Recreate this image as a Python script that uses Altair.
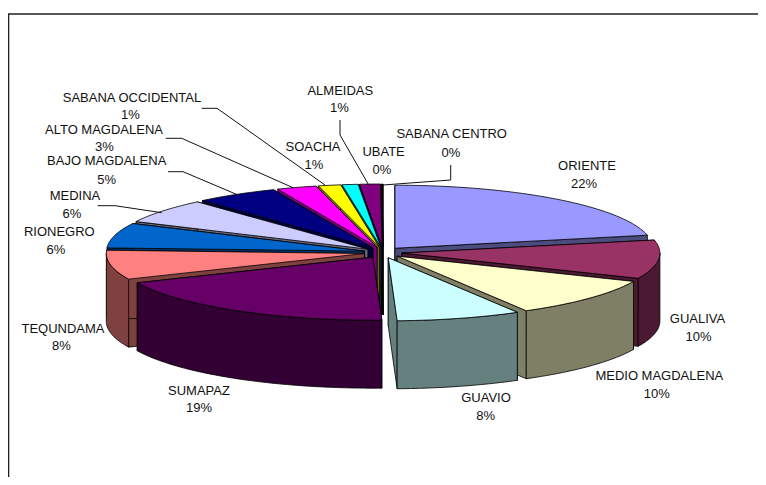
import numpy as np
import pandas as pd
import altair as alt

# Slice data (clockwise from the top of the pie)
names = ["ORIENTE", "GUALIVA", "MEDIO MAGDALENA", "GUAVIO", "SUMAPAZ", "TEQUNDAMA", "RIONEGRO",
         "MEDINA", "BAJO MAGDALENA", "ALTO MAGDALENA", "SABANA OCCIDENTAL", "SOACHA", "ALMEIDAS",
         "UBATE", "SABANA CENTRO"]
values = [21.7, 9.9, 10.1, 7.8, 18.9, 7.5, 6.4, 6.3, 5.2, 2.5, 1.4, 1.0, 1.3, 0.05, 0.05]
percents = ["22%", "10%", "10%", "8%", "19%", "8%", "6%", "6%", "5%", "3%", "1%", "1%", "1%", "0%", "0%"]
colors = ["#9999FF", "#993366", "#FFFFCC", "#CCFFFF", "#660066", "#FF8080", "#0066CC", "#CCCCFF",
          "#000080", "#FF00FF", "#FFFF00", "#00FFFF", "#800080", "#800000", "#008080"]

# Label anchors: name x, name y, percent x, percent y
label_name_x = [587, 697.5, 659.3, 486, 199, 63, 59.3, 75, 106.7, 104, 132, 313, 340.3, 383.6, 451.7]
label_name_y = [166, 319, 376, 398, 391, 329, 232, 196, 161, 129.5, 98, 147, 91, 152, 134]
label_pct_x = [584, 698.5, 656.8, 485.7, 199, 61.5, 56, 72, 106.7, 104.5, 130.5, 314, 339.5, 382, 451]
label_pct_y = [184, 337, 394, 416, 408, 346, 250, 214, 180, 147, 114.5, 165, 108, 170, 153]

# Leader lines
leader_lines = {
    "SABANA OCCIDENTAL": [(201.7, 108.3), (217, 108.3), (325, 185)],
    "ALTO MAGDALENA": [(165.7, 138.3), (181.7, 138.3), (293, 187.7)],
    "BAJO MAGDALENA": [(168, 171.7), (183, 171.7), (238, 195)],
    "MEDINA": [(97.7, 205.7), (115, 205.7), (161.7, 212.7)],
    "ALMEIDAS": [(340, 120), (340, 135), (368.3, 184.3)],
    "SABANA CENTRO": [(450.7, 165), (450.7, 180), (383, 185)],
}
frame_line = [(8.5, 477), (8.5, 14), (758, 14)]

# Pie projection
CX, CY = 383.0, 252.5
RX, RY = 258.0, 63.0
EX, EY = 19.0, 5.5
DEPTH = 68.0


def wall_colour(hex_colour):
    r, g, b = (int(hex_colour[i:i + 2], 16) // 2 for i in (1, 3, 5))
    return f"#{r:02x}{g:02x}{b:02x}"


edges = np.concatenate([[0], np.cumsum(values)]) / np.sum(values) * 2 * np.pi
slices = []
for k in range(len(values)):
    a0, a1 = edges[k], edges[k + 1]
    mid = (a0 + a1) / 2
    slices.append(dict(k=k, a0=a0, a1=a1, mid=mid,
                       ax=CX + EX * np.sin(mid), ay=CY - EY * np.cos(mid)))

rows = []


def add_polygon(pid, xs, ys, fill):
    for i, (x, y) in enumerate(zip(xs, ys)):
        rows.append(dict(pid=pid, i=i, x=float(x), y=float(y), fill=fill))


draw_order = sorted(slices, key=lambda s: -np.cos(s["mid"]))
for n, s in enumerate(draw_order):
    top = colors[s["k"]]
    wall = wall_colour(top)
    ax, ay = s["ax"], s["ay"]

    def rim(t):
        return ax + RX * np.sin(t), ay - RY * np.cos(t)

    # cut walls
    for j, t in enumerate((s["a0"], s["a1"])):
        rx, ry = rim(t)
        add_polygon(f"{n:02d}_a{j}", [ax, rx, rx, ax], [ay, ry, ry + DEPTH, ay + DEPTH], wall)
    # outer wall (front half only)
    lo, hi = max(s["a0"], np.pi / 2), min(s["a1"], 3 * np.pi / 2)
    if hi > lo:
        t = np.linspace(lo, hi, max(3, int(np.degrees(hi - lo)) + 1))
        rx, ry = rim(t)
        add_polygon(f"{n:02d}_b", np.r_[rx, rx[::-1]], np.r_[ry, ry[::-1] + DEPTH], wall)
    # top face
    t = np.linspace(s["a0"], s["a1"], max(3, int(np.degrees(s["a1"] - s["a0"])) + 2))
    rx, ry = rim(t)
    add_polygon(f"{n:02d}_c", np.r_[ax, rx], np.r_[ay, ry], top)

poly_df = pd.DataFrame(rows)

x_scale = alt.Scale(domain=[8, 758], nice=False, zero=False)
y_scale = alt.Scale(domain=[477, 8], nice=False, zero=False)
X = alt.X("x:Q", scale=x_scale, axis=None)
Y = alt.Y("y:Q", scale=y_scale, axis=None)

pie = alt.Chart(poly_df).mark_line(
    interpolate="linear-closed", stroke="#000000", strokeWidth=0.8, strokeJoin="round"
).encode(x=X, y=Y, detail="pid:N", order="i:Q", fill=alt.Fill("fill:N", scale=None))

leader_df = pd.DataFrame(
    [dict(name=nm, i=i, x=p[0], y=p[1]) for nm, pts in leader_lines.items() for i, p in enumerate(pts)]
)
leaders = alt.Chart(leader_df).mark_line(stroke="#111111", strokeWidth=1).encode(
    x=X, y=Y, detail="name:N", order="i:Q"
)

frame_df = pd.DataFrame([dict(i=i, x=p[0], y=p[1]) for i, p in enumerate(frame_line)])
frame = alt.Chart(frame_df).mark_line(stroke="#222222", strokeWidth=1.6).encode(x=X, y=Y, order="i:Q")

text_rows = []
for k, nm in enumerate(names):
    text_rows.append(dict(t=nm, x=label_name_x[k], y=label_name_y[k]))
    text_rows.append(dict(t=percents[k], x=label_pct_x[k], y=label_pct_y[k]))
labels = alt.Chart(pd.DataFrame(text_rows)).mark_text(
    font="Liberation Sans", fontSize=13, align="center", baseline="middle", color="#111111"
).encode(x=X, y=Y, text="t:N")

chart = alt.layer(frame, pie, leaders, labels).properties(
    width=750, height=469, padding=0, autosize=alt.AutoSizeParams(type="none"), background="white"
).configure_view(strokeWidth=0)

chart.save("out.html", embed_options={"renderer": "svg", "actions": False})
